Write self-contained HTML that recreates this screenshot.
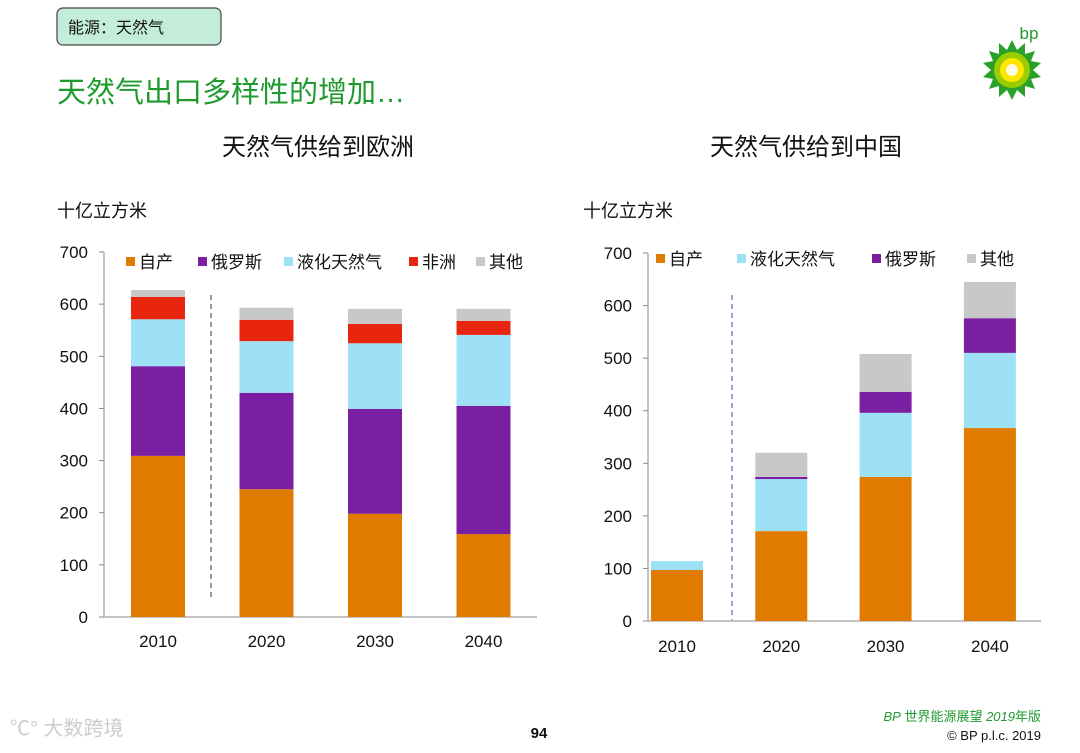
<!DOCTYPE html>
<html><head><meta charset="utf-8"><style>
body{margin:0;width:1080px;height:748px;background:#fff;overflow:hidden;font-family:"Liberation Sans","Noto Sans CJK SC",sans-serif;}
svg text{font-family:"Liberation Sans","Noto Sans CJK SC",sans-serif;}
</style></head><body>
<svg id="s" width="1080" height="748" xmlns="http://www.w3.org/2000/svg">
<rect x="57" y="8" width="164" height="37" rx="6" fill="#c3ecd9" stroke="#444" stroke-width="1.2"/>
<text x="68" y="33" font-size="16" fill="#111">能源：天然气</text>
<text x="57" y="102" font-size="29" fill="#1f9a2e">天然气出口多样性的增加…</text>
<text x="1029" y="39" font-size="17" fill="#1f9a2e" text-anchor="middle">bp</text>
<g transform="translate(1012,70)">
<polygon id="star" fill="#2aa22a" points="0,-30 5,-20 13,-27 13,-16 23,-19 19,-9 29,-7 21,0 29,7 19,9 23,19 13,16 13,27 5,20 0,30 -5,20 -13,27 -13,16 -23,19 -19,9 -29,7 -21,0 -29,-7 -19,-9 -23,-19 -13,-16 -13,-27 -5,-20"/>
<circle r="18" fill="#9acd00"/><circle r="12" fill="#ffe600"/><circle r="6" fill="#fffbe0"/>
</g>
<text x="318" y="155" font-size="24" fill="#111" text-anchor="middle">天然气供给到欧洲</text>
<text x="806" y="155" font-size="24" fill="#111" text-anchor="middle">天然气供给到中国</text>
<text x="57" y="217" font-size="18" fill="#111">十亿立方米</text>
<text x="583" y="217" font-size="18" fill="#111">十亿立方米</text>
<g id="c1"></g><g id="c2"></g>
<text x="10" y="735" font-size="20" fill="#ccc">℃° 大数跨境</text>
<text x="539" y="738" font-size="15" font-weight="bold" fill="#111" text-anchor="middle">94</text>
<text x="1041" y="721" font-size="13" fill="#1f9a2e" text-anchor="end"><tspan font-style="italic">BP</tspan> 世界能源展望 <tspan font-style="italic">2019</tspan>年版</text>
<text x="1041" y="740" font-size="13" fill="#111" text-anchor="end">© BP p.l.c. 2019</text>
</svg>
<script>
const categories=["2010","2020","2030","2040"];
const yTicks=[0,100,200,300,400,500,600,700];
const euSeries=["自产","俄罗斯","液化天然气","非洲","其他"];
const euColors=["#e07b00","#7a1fa2","#9ee0f5","#e8250f","#c8c8c8"];
const euDomestic=[309,245,198,159];
const euRussia=[172,185,201,246];
const euLng=[90,99,126,136];
const euAfrica=[43,41,37,27];
const euOther=[13,23,29,23];
const cnSeries=["自产","液化天然气","俄罗斯","其他"];
const cnColors=["#e07b00","#9ee0f5","#7a1fa2","#c8c8c8"];
const cnDomestic=[97,171,274,367];
const cnLng=[17,99,122,143];
const cnRussia=[0,4,40,66];
const cnOther=[0,46,72,69];
const NS="http://www.w3.org/2000/svg";
function mk(p,t,a,txt){const e=document.createElementNS(NS,t);for(const k in a)e.setAttribute(k,a[k]);if(txt!==undefined)e.textContent=txt;p.appendChild(e);return e;}
function draw(g,cfg,series,colors,data,pre){
  const y=v=>cfg.y0-(v/700)*(cfg.y0-cfg.y700);
  const x=i=>cfg.c0+i*cfg.step;
  let ax=mk(g,'line',{x1:cfg.ax,x2:cfg.ax,y1:cfg.y700,y2:cfg.y0,stroke:'#888'});
  
  let bx=mk(g,'line',{x1:cfg.ax,x2:cfg.xr,y1:cfg.y0,y2:cfg.y0,stroke:'#888'});
  
  yTicks.forEach(t=>{
    mk(g,'line',{x1:cfg.ax-5,x2:cfg.ax,y1:y(t),y2:y(t),stroke:'#888'});
    const tl=mk(g,'text',{x:cfg.ax-16,y:y(t)+6,'font-size':17,'text-anchor':'end',fill:'#111'},t);
    
  });
  categories.forEach((c,i)=>{
    let acc=0;
    data.forEach((arr,s)=>{
      const v=arr[i];if(v<=0)return;
      const r=mk(g,'rect',{x:x(i)-cfg.bw/2,y:y(acc+v),width:cfg.bw,height:y(acc)-y(acc+v),fill:colors[s]});
      
      acc+=v;
    });
    const l=mk(g,'text',{x:x(i),y:cfg.xl,'font-size':17,'text-anchor':'middle',fill:'#111'},c);
    
  });
  const d=mk(g,'line',{x1:cfg.dash,x2:cfg.dash,y1:295,y2:cfg.dy2,stroke:cfg.dc,'stroke-dasharray':'5,4'});
  
  series.forEach((s,k)=>{
    const lx=cfg.lx[k];
    mk(g,'rect',{x:lx,y:cfg.ly-11,width:9,height:9,fill:colors[k]});
    const t=mk(g,'text',{x:lx+13,y:cfg.ly,'font-size':17,fill:'#111'},s);
    
  });
}
draw(document.getElementById('c1'),{y0:617,y700:252,c0:158,step:108.5,bw:54,ax:104,xr:537,xl:647,dash:211,dy2:598,dc:'#333',lx:[126,198,284,409,476],ly:268},euSeries,euColors,[euDomestic,euRussia,euLng,euAfrica,euOther],'europe');
draw(document.getElementById('c2'),{y0:621,y700:253,c0:677,step:104.3,bw:52,ax:648,xr:1041,xl:652,dash:732,dy2:620,dc:'#6a3aa0',lx:[656,737,872,967],ly:265},cnSeries,cnColors,[cnDomestic,cnLng,cnRussia,cnOther],'china');
</script>
</body></html>
